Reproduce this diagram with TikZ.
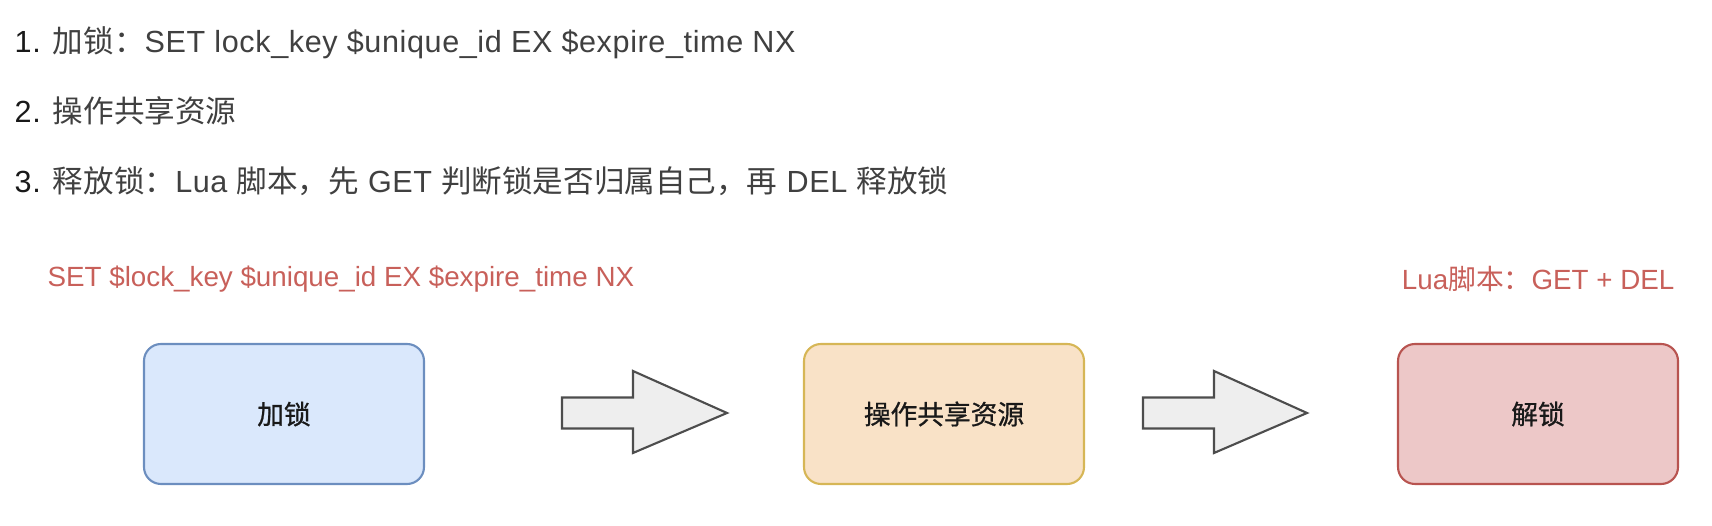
\documentclass[tikz,border=0pt]{standalone}
\usepackage{fontspec}
\usepackage{xcolor}
\setmainfont{Liberation Sans}
\newfontfamily\toplat{Liberation Sans}[LetterSpace=2]
\newfontfamily\cjk{Noto Sans CJK SC}
\newfontfamily\cjkbox{Noto Sans CJK SC}[FakeBold=0.8]

\definecolor{bluefill}{HTML}{DAE8FC}
\definecolor{bluedraw}{HTML}{6C8EBF}
\definecolor{yelfill}{HTML}{F9E2C7}
\definecolor{yeldraw}{HTML}{D6B656}
\definecolor{redfill}{HTML}{EDC8C8}
\definecolor{reddraw}{HTML}{B85450}
\definecolor{redtext}{HTML}{C8605A}
\definecolor{arrfill}{HTML}{EEEEEE}
\definecolor{arrdraw}{HTML}{4D4D4D}

\tikzset{
  stepline/.style={anchor=west, inner sep=0pt, font=\fontsize{8.7}{9}\toplat, text=black!75},
  note/.style={inner sep=0pt, font=\fontsize{7.9}{9}\selectfont, text=redtext},
  box/.style={rounded corners=0.17cm, line width=0.6pt, minimum width=2.8cm,
    minimum height=1.4cm, font=\fontsize{7.6}{9}\cjkbox, text=black!90},
  blockarrow/.style={fill=arrfill, draw=arrdraw, line width=0.6pt}
}

\begin{document}
\begin{tikzpicture}
\useasboundingbox (0,0) rectangle (17.12,5.26);

% steps
\node[stepline] (s1) at (0.14,4.83) {{\color{black!90}1.} {\cjk 加锁：}SET lock\_key \$unique\_id EX \$expire\_time NX};
\node[stepline] (s2) at (0.14,4.15) {{\color{black!90}2.} {\cjk 操作共享资源}};
\node[stepline] (s3) at (0.14,3.45) {{\color{black!90}3.} {\cjk 释放锁：}Lua {\cjk 脚本，}{\cjk 先} GET {\cjk 判断锁是否归属自己，}{\cjk 再} DEL {\cjk 释放锁}};

% notes
\node[note, anchor=west] (n1) at (0.47,2.47) {SET \$lock\_key \$unique\_id EX \$expire\_time NX};
\node[note, anchor=east] (n2) at (16.75,2.47) {Lua{\cjk 脚本：}GET + DEL};

% boxes
\node[box, fill=bluefill, draw=bluedraw] (lock) at (2.84,1.12) {加锁};
\node[box, fill=yelfill, draw=yeldraw] (work) at (9.44,1.12) {操作共享资源};
\node[box, fill=redfill, draw=reddraw] (unlock) at (15.38,1.12) {解锁};

% block arrows
\draw[blockarrow] (5.62,1.285)--(6.33,1.285)--(6.33,1.55)--(7.27,1.13)--(6.33,0.73)--(6.33,0.975)--(5.62,0.975)--cycle;
\draw[blockarrow] (11.43,1.285)--(12.14,1.285)--(12.14,1.55)--(13.07,1.13)--(12.14,0.73)--(12.14,0.975)--(11.43,0.975)--cycle;
\end{tikzpicture}
\end{document}
